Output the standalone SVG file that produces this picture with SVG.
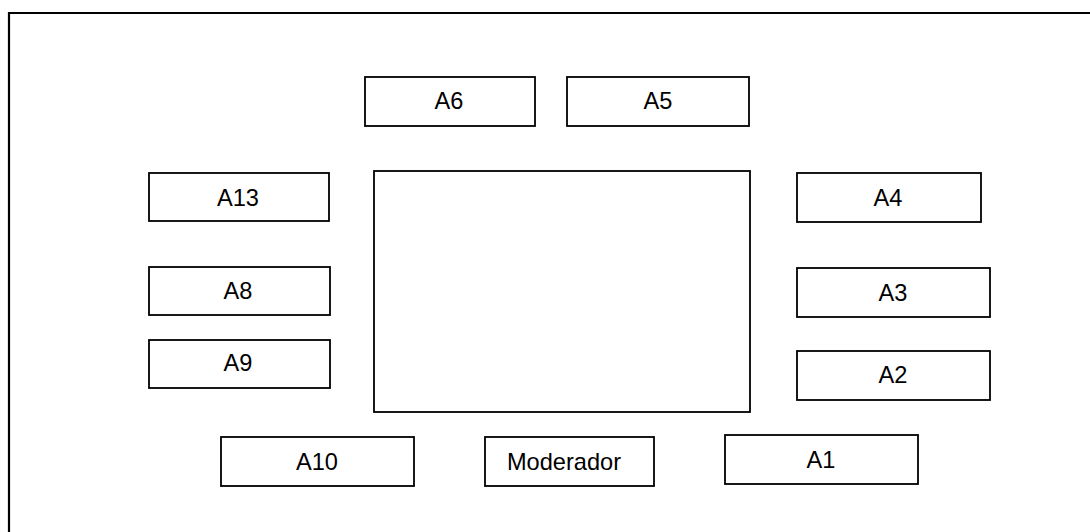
<svg xmlns="http://www.w3.org/2000/svg" width="1090" height="532" viewBox="0 0 1090 532">
<style>
.box{fill:#fff;stroke:#000;stroke-width:1.8}
.lbl{font-family:"Liberation Sans",Arial,sans-serif;font-size:23.6px;fill:#000;text-anchor:middle}
</style>
<rect x="0" y="0" width="1090" height="532" fill="#fff"/>
<path d="M9 540 V13 H1100" fill="none" stroke="#000" stroke-width="2.2"/>
<g id="table"><rect class="box" x="374" y="171" width="376" height="241"/></g>
<g id="A6"><rect class="box" x="365" y="77" width="170" height="49"/><text class="lbl" x="449" y="109">A6</text></g>
<g id="A5"><rect class="box" x="567" y="77" width="182" height="49"/><text class="lbl" x="658" y="109">A5</text></g>
<g id="A13"><rect class="box" x="149" y="173" width="180" height="48"/><text class="lbl" x="238" y="206">A13</text></g>
<g id="A4"><rect class="box" x="797" y="173" width="184" height="49"/><text class="lbl" x="888" y="206">A4</text></g>
<g id="A8"><rect class="box" x="149" y="267" width="181" height="48"/><text class="lbl" x="238" y="299">A8</text></g>
<g id="A3"><rect class="box" x="797" y="268" width="193" height="49"/><text class="lbl" x="893" y="301">A3</text></g>
<g id="A9"><rect class="box" x="149" y="340" width="181" height="48"/><text class="lbl" x="238" y="371">A9</text></g>
<g id="A2"><rect class="box" x="797" y="351" width="193" height="49"/><text class="lbl" x="893" y="383">A2</text></g>
<g id="A10"><rect class="box" x="221" y="437" width="193" height="49"/><text class="lbl" x="317" y="470">A10</text></g>
<g id="Moderador"><rect class="box" x="485" y="437" width="169" height="49"/><text class="lbl" x="564" y="470">Moderador</text></g>
<g id="A1"><rect class="box" x="725" y="435" width="193" height="49"/><text class="lbl" x="821" y="468">A1</text></g>
<g id="connectors"></g>
</svg>
